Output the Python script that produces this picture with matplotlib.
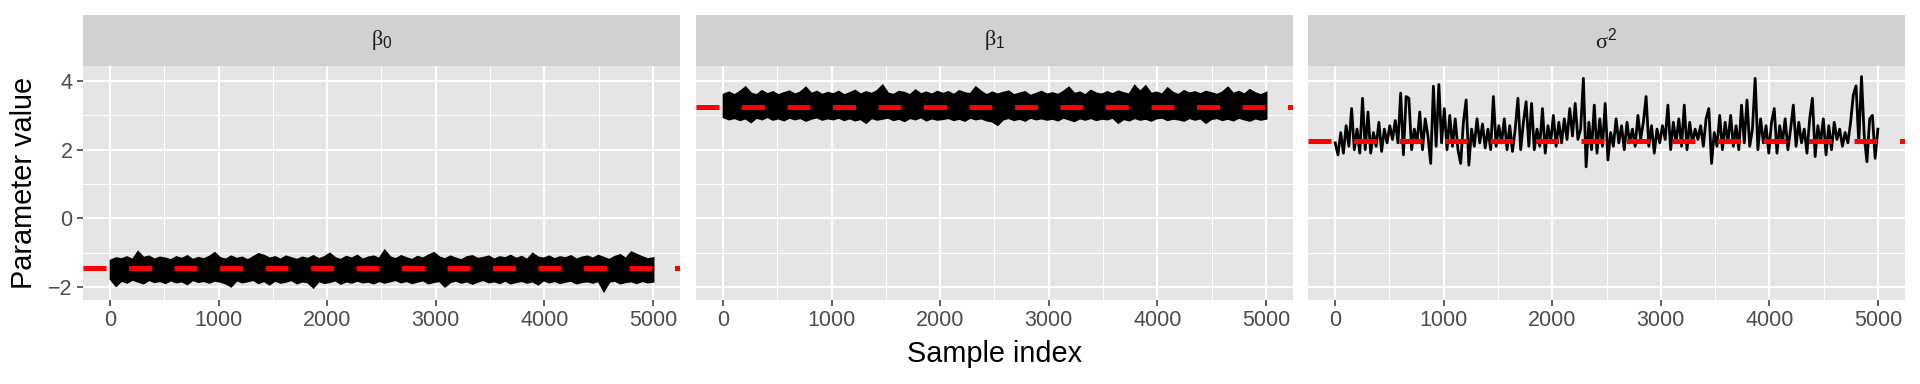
import numpy as np
import matplotlib.pyplot as plt

plt.rcParams['font.family'] = ['Liberation Sans', 'DejaVu Sans']
plt.rcParams['mathtext.fontset'] = 'custom'
plt.rcParams['mathtext.rm'] = 'Liberation Serif'
plt.rcParams['mathtext.sf'] = 'Liberation Sans'

# facet labels and true parameter values (red dashed lines)
params = [r'$\mathrm{\beta}_{\mathsf{0}}$', r'$\mathrm{\beta}_{\mathsf{1}}$', r'$\mathrm{\sigma}^{\mathsf{2}}$']
true_values = [-1.46, 3.24, 2.25]

# beta traces are too dense to read point by point: upper / lower envelope per 50 samples
beta0_hi = [-1.22, -1.15, -1.18, -1.12, -1.20, -0.97, -1.14, -1.10, -1.19, -1.13,
            -1.16, -1.21, -1.12, -1.17, -1.09, -1.20, -1.14, -1.18, -1.11, -1.00,
            -1.15, -1.19, -1.10, -1.17, -1.13, -1.21, -1.12, -1.03, -1.08, -1.16,
            -1.12, -1.19, -1.10, -1.15, -1.20, -1.13, -1.17, -1.09, -1.18, -1.12,
            -1.02, -1.15, -1.20, -1.11, -1.16, -1.08, -1.19, -1.13, -1.10, -1.17,
            -0.93, -1.12, -1.18, -1.09, -1.15, -1.20, -1.11, -1.16, -1.07, -1.00,
            -1.13, -1.18, -1.10, -1.16, -1.21, -1.12, -1.09, -1.17, -1.14, -1.10,
            -1.19, -1.12, -1.15, -1.08, -1.17, -1.11, -1.20, -1.02, -1.13, -1.16,
            -1.10, -1.18, -1.12, -1.15, -1.09, -1.19, -1.13, -1.10, -1.16, -1.08,
            -1.14, -1.20, -1.11, -1.06, -1.17, -0.98, -1.05, -1.12, -1.18, -1.15]
beta0_lo = [-1.76, -1.95, -1.80, -1.86, -1.77, -1.83, -1.88, -1.78, -1.84, -1.81,
            -1.87, -1.79, -1.85, -1.82, -1.90, -1.78, -1.84, -1.81, -1.86, -1.80,
            -1.83, -1.88, -1.97, -1.79, -1.85, -1.82, -1.78, -1.87, -1.81, -1.91,
            -1.80, -1.86, -1.83, -1.78, -1.88, -1.82, -1.85, -2.00, -1.81, -1.87,
            -1.84, -1.79, -1.89, -1.82, -1.86, -1.80, -1.85, -1.83, -1.88, -1.81,
            -1.86, -1.82, -1.78, -1.85, -1.81, -1.87, -1.83, -1.79, -1.88, -1.84,
            -1.81, -1.97, -1.84, -1.80, -1.86, -1.82, -1.89, -1.83, -1.78, -1.85,
            -1.82, -1.87, -1.80, -1.88, -1.84, -1.81, -1.86, -1.82, -1.91, -1.79,
            -1.85, -1.81, -1.87, -1.83, -1.80, -1.88, -1.84, -1.82, -1.86, -1.81,
            -2.10, -1.83, -1.80, -1.88, -1.84, -1.82, -1.87, -1.81, -1.85, -1.83]
beta1_hi = [3.62, 3.68, 3.60, 3.70, 3.83, 3.65, 3.60, 3.72, 3.63, 3.69,
            3.60, 3.66, 3.71, 3.62, 3.68, 3.82, 3.64, 3.70, 3.61, 3.67,
            3.63, 3.70, 3.60, 3.66, 3.73, 3.62, 3.69, 3.64, 3.72, 3.88,
            3.65, 3.61, 3.70, 3.67, 3.60, 3.74, 3.63, 3.68, 3.62, 3.70,
            3.64, 3.69, 3.61, 3.72, 3.66, 3.63, 3.83, 3.70, 3.60, 3.68,
            3.62, 3.67, 3.71, 3.60, 3.65, 3.69, 3.58, 3.64, 3.70, 3.62,
            3.66, 3.61, 3.70, 3.82, 3.64, 3.68, 3.60, 3.73, 3.65, 3.62,
            3.69, 3.63, 3.71, 3.66, 3.62, 3.87, 3.70, 3.86, 3.64, 3.68,
            3.62, 3.80, 3.67, 3.61, 3.72, 3.65, 3.69, 3.63, 3.70, 3.66,
            3.61, 3.68, 3.82, 3.64, 3.70, 3.62, 3.75, 3.66, 3.60, 3.67]
beta1_lo = [2.96, 2.90, 2.94, 2.88, 2.93, 2.82, 2.95, 2.90, 2.97, 2.89,
            2.93, 2.87, 2.95, 2.90, 2.94, 2.86, 2.92, 2.96, 2.89, 2.93,
            2.90, 2.95, 2.88, 2.93, 2.87, 2.91, 2.80, 2.94, 2.89, 2.92,
            2.95, 2.88, 2.92, 2.85, 2.94, 2.90, 2.96, 2.87, 2.93, 2.89,
            2.91, 2.94, 2.88, 2.92, 2.86, 2.95, 2.90, 2.93, 2.87, 2.84,
            2.74, 2.90, 2.94, 2.88, 2.92, 2.86, 2.95, 2.90, 2.93, 2.89,
            2.92, 2.87, 2.95, 2.90, 2.85, 2.93, 2.89, 2.94, 2.88, 2.92,
            2.90, 2.95, 2.80, 2.91, 2.87, 2.94, 2.89, 2.92, 2.86, 2.93,
            2.95, 2.88, 2.92, 2.90, 2.86, 2.94, 2.89, 2.93, 2.80, 2.91,
            2.94, 2.88, 2.92, 2.87, 2.95, 2.90, 2.86, 2.93, 2.89, 2.92]

# sigma^2 trace, one reading every 25 samples
sigma2 = [2.20, 1.85, 2.50, 1.90, 2.70, 2.10, 3.20, 2.00, 2.60, 1.90,
          3.50, 2.00, 3.10, 1.90, 2.50, 2.10, 2.80, 1.95, 2.60, 2.20,
          2.70, 2.30, 2.85, 2.20, 3.65, 1.85, 3.55, 3.50, 2.00, 2.60,
          2.20, 3.10, 2.00, 2.90, 2.40, 1.60, 3.85, 2.10, 3.90, 2.20,
          3.20, 2.00, 3.00, 2.10, 2.90, 2.00, 1.60, 2.80, 3.45, 1.55,
          2.60, 2.10, 2.90, 2.20, 2.75, 2.05, 2.60, 2.00, 3.55, 2.10,
          2.70, 2.20, 2.90, 2.00, 2.70, 1.95, 2.60, 3.50, 2.00, 2.80,
          3.40, 2.10, 3.35, 2.00, 2.60, 2.10, 3.20, 1.90, 2.70, 2.20,
          3.00, 2.10, 2.80, 2.20, 2.90, 2.30, 3.20, 2.40, 3.35, 2.30,
          2.60, 4.08, 1.50, 2.80, 2.00, 3.30, 1.90, 2.90, 2.10, 3.35,
          1.70, 2.50, 2.10, 2.90, 2.20, 2.70, 2.00, 2.80, 2.20, 2.60,
          2.10, 3.00, 2.30, 2.80, 3.55, 2.10, 2.70, 1.90, 2.60, 2.20,
          2.70, 2.30, 3.30, 2.00, 2.80, 2.20, 2.90, 2.10, 3.30, 2.00,
          2.80, 2.20, 2.60, 2.30, 2.70, 2.10, 2.90, 3.20, 1.60, 2.50,
          2.10, 3.00, 2.00, 2.80, 2.20, 3.00, 2.10, 2.70, 2.00, 3.30,
          2.20, 3.45, 2.10, 2.60, 4.08, 2.00, 2.90, 2.20, 2.70, 1.90,
          2.80, 3.20, 1.90, 2.70, 2.20, 2.90, 2.00, 2.60, 3.30, 2.10,
          2.80, 2.20, 2.60, 1.90, 2.90, 3.50, 1.80, 2.70, 2.20, 2.90,
          1.85, 2.70, 2.00, 2.80, 2.30, 2.60, 2.10, 2.50, 2.20, 2.80,
          3.60, 3.86, 2.20, 4.13, 2.40, 1.65, 2.90, 3.00, 1.75, 2.60]

env_idx = np.linspace(1, 5000, len(beta0_hi))
sig_idx = np.linspace(1, 5000, len(sigma2))

W, H = 1920, 384
fig = plt.figure(figsize=(W / 100, H / 100), dpi=100)

panel_left = [83, 696, 1308]
panel_w = 597
panel_top, panel_bot, strip_top = 66, 300, 15

axes = []
for i in range(3):
    ax = fig.add_axes([panel_left[i] / W, 1 - panel_bot / H, panel_w / W, (panel_bot - panel_top) / H])
    sax = fig.add_axes([panel_left[i] / W, 1 - panel_top / H, panel_w / W, (panel_top - strip_top) / H])
    sax.set_facecolor('#D1D1D1')
    sax.set_xticks([]); sax.set_yticks([])
    for s in sax.spines.values():
        s.set_visible(False)
    sax.text(0.5, 0.5, params[i], ha='center', va='center', fontsize=16, color='#1A1A1A',
             transform=sax.transAxes)
    axes.append(ax)

for i, ax in enumerate(axes):
    ax.set_facecolor('#E5E5E5')
    if i == 0:
        ax.fill_between(env_idx, beta0_lo, beta0_hi, color='black', lw=1.6, joinstyle='miter')
    elif i == 1:
        ax.fill_between(env_idx, beta1_lo, beta1_hi, color='black', lw=1.6, joinstyle='miter')
    else:
        ax.plot(sig_idx, sigma2, color='black', lw=2.0)
    ax.axhline(true_values[i], color='red', lw=3.6, dashes=(4.6, 4.5), dash_capstyle='butt', zorder=5)

    ax.set_xlim(-250, 5250)
    ax.set_ylim(-2.38, 4.44)
    ax.set_xticks([0, 1000, 2000, 3000, 4000, 5000])
    ax.set_xticks([500, 1500, 2500, 3500, 4500], minor=True)
    ax.set_yticks([-2, 0, 2, 4])
    ax.set_yticks([-1, 1, 3], minor=True)
    ax.set_axisbelow(True)
    ax.grid(which='major', color='white', lw=1.5)
    ax.grid(which='minor', color='white', lw=0.75)
    for s in ax.spines.values():
        s.set_visible(False)
    ax.tick_params(which='major', length=4.5, width=1.1, color='#333333',
                   labelsize=15.5, labelcolor='#4D4D4D', pad=3)
    ax.tick_params(which='minor', length=0)
    if i > 0:
        ax.tick_params(axis='y', which='both', left=False, labelleft=False)

fig.text((panel_left[1] + panel_w / 2) / W, 1 - 354 / H, 'Sample index', ha='center', va='center', fontsize=20.8)
fig.text(24 / W, 1 - ((panel_top + panel_bot) / 2) / H, 'Parameter value', ha='center', va='center',
         rotation=90, fontsize=20.8)

fig.savefig('out.png', dpi=100)
